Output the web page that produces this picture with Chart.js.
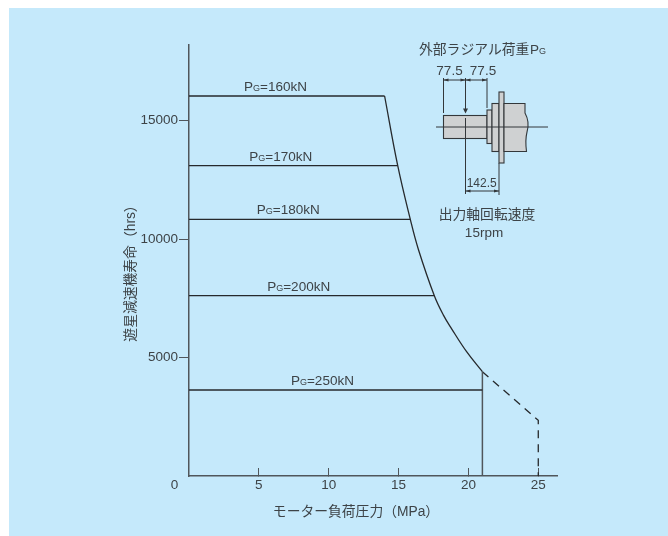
<!DOCTYPE html>
<html>
<head>
<meta charset="utf-8">
<style>
    body { margin: 0; background: #fff; }
    canvas { display: block; }
</style>
<script src="https://cdn.jsdelivr.net/npm/chart.js@4"></script>
</head>
<body>
<canvas id="chart" width="668" height="536"></canvas>
<script>
// values
const xTickValues = [5, 10, 15, 20, 25];
const yTickValues = [5000, 10000, 15000];
const loadNames = ['160kN', '170kN', '180kN', '200kN', '250kN'];
const loadPressure = [14.0, 14.94, 15.84, 17.56, 21.0];
const loadLife = [16034, 13093, 10831, 7607, 3629];
const loadLabelX = [3.94, 4.32, 4.85, 5.6, 7.3];
const curvePressure = [14.0, 14.94, 15.84, 16.42, 17.56, 18.2, 18.8, 19.87, 21.0];
const curveLife = [16034, 13093, 10831, 9560, 7607, 6800, 6210, 5245, 4400];
const ratedPressure = [21, 21];
const ratedLife = [0, 4400];
const dashedPressure = [21, 25, 25];
const dashedLife = [4400, 2350, 0];

const xTitle = 'モーター負荷圧力（MPa）';
const yTitle = '遊星減速機寿命（hrs）';

const FONT = '"Liberation Sans", "Noto Sans CJK JP", sans-serif';
const TEXT = '#3d4347';
const AXIS = '#50565b';
const LINE = '#26292c';

const toPoints = (xs, ys) => xs.map((x, i) => ({ x: x, y: ys[i] }));

const lineSet = (points, extra) => Object.assign({
    data: points,
    showLine: true,
    pointRadius: 0,
    borderColor: LINE,
    borderWidth: 1.3
}, extra);

const loadSets = loadLife.map((life, i) =>
    lineSet(toPoints([0, loadPressure[i]], [life, life])));

function text(ctx, str, x, y, align, size) {
    ctx.font = (size || 13.5) + 'px ' + FONT;
    ctx.textAlign = align || 'center';
    ctx.fillText(str, x, y);
}

function segment(ctx, x1, y1, x2, y2) {
    ctx.beginPath();
    ctx.moveTo(x1, y1);
    ctx.lineTo(x2, y2);
    ctx.stroke();
}

function arrow(ctx, x, y, dx, dy, half) {
    const h = half || 1.5;
    ctx.beginPath();
    ctx.moveTo(x, y);
    ctx.lineTo(x + dx * 5 - dy * h, y + dy * 5 - dx * h);
    ctx.lineTo(x + dx * 5 + dy * h, y + dy * 5 + dx * h);
    ctx.closePath();
    ctx.fill();
}

function drawShaftDiagram(ctx) {
    ctx.save();
    ctx.fillStyle = TEXT;
    ctx.textBaseline = 'alphabetic';
    text(ctx, '外部ラジアル荷重', 419, 54, 'left', 13.8);
    text(ctx, 'P', 530, 54, 'left');
    text(ctx, 'G', 539, 54, 'left', 9);
    text(ctx, '77.5', 449.5, 75);
    text(ctx, '77.5', 483, 75);
    text(ctx, '142.5', 481.7, 187, 'center', 12);
    text(ctx, '出力軸回転速度', 487, 219, 'center', 13.8);
    text(ctx, '15rpm', 484, 237);

    // housing parts, left to right
    ctx.fillStyle = '#cfd1d2';
    ctx.strokeStyle = '#33373a';
    ctx.lineWidth = 1.1;
    [[443.5, 115.5, 43.5, 23], [487, 110, 5, 33.5], [492, 103.5, 7, 48], [499, 92, 5, 71]].forEach(r => {
        ctx.fillRect(r[0], r[1], r[2], r[3]);
        ctx.strokeRect(r[0], r[1], r[2], r[3]);
    });
    ctx.beginPath();
    ctx.moveTo(504, 103.5);
    ctx.lineTo(525, 103.5);
    ctx.lineTo(525, 113);
    ctx.quadraticCurveTo(530, 122, 527, 132);
    ctx.quadraticCurveTo(525, 140, 526.5, 151.5);
    ctx.lineTo(504, 151.5);
    ctx.closePath();
    ctx.fill();
    ctx.stroke();

    // centre line and dimension lines
    ctx.lineWidth = 1;
    segment(ctx, 436, 127, 548, 127);
    segment(ctx, 443.5, 78, 443.5, 113);
    segment(ctx, 487, 78, 487, 108);
    segment(ctx, 465.5, 78, 465.5, 110);
    segment(ctx, 465.5, 118, 465.5, 194);
    segment(ctx, 499, 163, 499, 195);
    segment(ctx, 443.5, 80, 487, 80);
    segment(ctx, 465.5, 191, 499, 191);

    ctx.fillStyle = '#33373a';
    arrow(ctx, 443.5, 80, 1, 0);
    arrow(ctx, 465.5, 80, -1, 0);
    arrow(ctx, 465.5, 80, 1, 0);
    arrow(ctx, 487, 80, -1, 0);
    arrow(ctx, 465.5, 191, 1, 0);
    arrow(ctx, 499, 191, -1, 0);
    arrow(ctx, 465.5, 113.5, 0, -1, 2.5);
    ctx.restore();
}

const backgroundPlugin = {
    id: 'background',
    beforeDraw(chart) {
        const ctx = chart.ctx;
        ctx.save();
        ctx.fillStyle = '#c5e9fb';
        ctx.fillRect(9, 8, chart.width - 9, chart.height - 8);
        ctx.restore();
    }
};

const labelsPlugin = {
    id: 'labels',
    afterDraw(chart) {
        const ctx = chart.ctx;
        const x = chart.scales.x;
        const y = chart.scales.y;
        ctx.save();
        ctx.fillStyle = TEXT;
        ctx.textBaseline = 'alphabetic';

        // load labels sit just above their line
        loadNames.forEach((name, i) => {
            const left = x.getPixelForValue(loadLabelX[i]);
            const base = y.getPixelForValue(loadLife[i]) - 5;
            text(ctx, 'P', left, base, 'left');
            text(ctx, 'G', left + 9, base, 'left', 9);
            text(ctx, '=' + name, left + 16, base, 'left');
        });

        text(ctx, '0', 174.5, 489);
        text(ctx, xTitle, 356, 516, 'center', 13.8);

        ctx.translate(135, 270);
        ctx.rotate(-Math.PI / 2);
        text(ctx, yTitle, 0, 0, 'center', 13.8);
        ctx.restore();

        drawShaftDiagram(ctx);
    }
};

new Chart(document.getElementById('chart'), {
    type: 'scatter',
    data: {
        datasets: [
            ...loadSets,
            lineSet(toPoints(curvePressure, curveLife), { tension: 0.4 }),
            lineSet(toPoints(ratedPressure, ratedLife), { borderColor: AXIS, borderWidth: 1.5 }),
            lineSet(toPoints(dashedPressure, dashedLife), { borderDash: [8, 6] })
        ]
    },
    options: {
        responsive: false,
        animation: false,
        layout: { padding: { top: 45, right: 111 } },
        plugins: {
            legend: { display: false },
            tooltip: { enabled: false }
        },
        scales: {
            x: {
                type: 'linear',
                min: 0,
                max: 26.34,
                afterBuildTicks: axis => { axis.ticks = xTickValues.map(v => ({ value: v })); },
                afterFit: axis => { axis.height = 60; },
                border: { color: AXIS, width: 1.5 },
                grid: { drawOnChartArea: false, color: AXIS, lineWidth: 1, tickLength: -8 },
                ticks: {
                    color: TEXT,
                    font: { family: FONT, size: 13.5 },
                    maxRotation: 0,
                    padding: 9
                }
            },
            y: {
                type: 'linear',
                min: 0,
                max: 18186,
                afterBuildTicks: axis => { axis.ticks = yTickValues.map(v => ({ value: v })); },
                afterFit: axis => { axis.width = 189; },
                border: { color: AXIS, width: 1.5 },
                grid: { drawOnChartArea: false, color: AXIS, lineWidth: 1, tickLength: 10 },
                ticks: {
                    color: TEXT,
                    font: { family: FONT, size: 13.5 },
                    padding: 1,
                    callback: v => String(v)
                }
            }
        }
    },
    plugins: [backgroundPlugin, labelsPlugin]
});
</script>
</body>
</html>
